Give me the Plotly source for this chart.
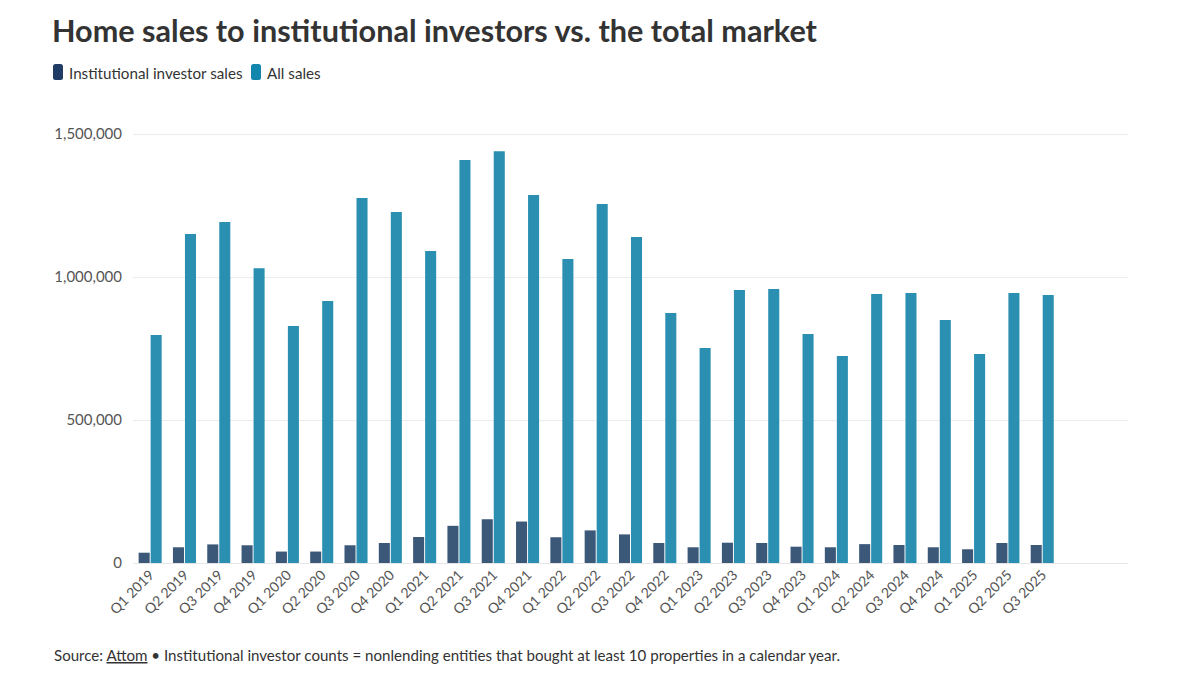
import plotly.graph_objects as go

quarters = ["Q1 2019", "Q2 2019", "Q3 2019", "Q4 2019",
            "Q1 2020", "Q2 2020", "Q3 2020", "Q4 2020",
            "Q1 2021", "Q2 2021", "Q3 2021", "Q4 2021",
            "Q1 2022", "Q2 2022", "Q3 2022", "Q4 2022",
            "Q1 2023", "Q2 2023", "Q3 2023", "Q4 2023",
            "Q1 2024", "Q2 2024", "Q3 2024", "Q4 2024",
            "Q1 2025", "Q2 2025", "Q3 2025"]

institutional_sales = [36000, 55000, 65000, 62000,
                       40000, 40000, 62000, 70000,
                       91000, 130000, 153000, 145000,
                       90000, 114000, 100000, 70000,
                       55000, 71000, 70000, 57000,
                       55000, 66000, 63000, 55000,
                       48000, 70000, 63000]

all_sales = [797000, 1150000, 1192000, 1031000,
             829000, 916000, 1276000, 1227000,
             1091000, 1409000, 1440000, 1287000,
             1063000, 1255000, 1140000, 874000,
             752000, 955000, 958000, 801000,
             724000, 941000, 944000, 850000,
             731000, 944000, 937000]

series_names = ["Institutional investor sales", "All sales"]
y_ticks = [0, 500000, 1000000, 1500000]

dark = "#3b5878"
teal = "#2b8fb1"
legend_dark = "#1f3c66"
legend_teal = "#1286ad"

# figure geometry (page has 8px body margin)
W, H = 1192, 666
ML, MR, MT, MB = 125, 72, 102, 111
PW = W - ML - MR
PH = H - MT - MB


def px_x(px):
    """reference-screen pixel x -> paper x"""
    return (px - 8 - ML) / PW


def px_y(py):
    """reference-screen pixel y -> paper y"""
    return (H - MB - (py - 8)) / PH


fig = go.Figure()
fig.add_trace(go.Bar(x=quarters, y=institutional_sales, name=series_names[0],
                     marker=dict(color=dark, line=dict(width=0))))
fig.add_trace(go.Bar(x=quarters, y=all_sales, name=series_names[1],
                     marker=dict(color=teal, line=dict(width=0))))

fig.update_layout(
    width=W, height=H,
    paper_bgcolor="white", plot_bgcolor="white",
    font=dict(family="Lato, Noto Sans, sans-serif", color="#333333"),
    margin=dict(l=ML, r=MR, t=MT, b=MB),
    barmode="group", bargap=0.3, bargroupgap=0.08,
    title=dict(text="<b>Home sales to institutional investors vs. the total market</b>",
               x=44 / W, xanchor="left", xref="container",
               y=1 - 23 / H, yanchor="middle", yref="container",
               font=dict(size=30.6, color="#333333")),
    showlegend=False,
)

fig.update_xaxes(
    type="category", range=[-0.5, 28.5], tickangle=-45,
    tickfont=dict(size=14, color="#555555"), showgrid=False,
    ticks="", showline=False, automargin=False,
)
fig.update_yaxes(
    range=[0, 1584000], tickvals=y_ticks, tickformat=",",
    tickfont=dict(size=15, color="#555555"),
    showgrid=True, gridcolor="#ececec", gridwidth=1,
    zeroline=True, zerolinecolor="#e6e6e6", zerolinewidth=1,
    ticks="", ticklabelstandoff=10, automargin=False,
)


def rounded_rect(x0, y0, x1, y1, r):
    # pixel coords (screen) -> path in paper coords
    rx = r / PW
    ry = r / PH
    a0, a1 = px_x(x0), px_x(x1)
    b0, b1 = px_y(y1), px_y(y0)  # b0 bottom, b1 top
    return (f"M {a0+rx},{b0} L {a1-rx},{b0} Q {a1},{b0} {a1},{b0+ry} "
            f"L {a1},{b1-ry} Q {a1},{b1} {a1-rx},{b1} L {a0+rx},{b1} "
            f"Q {a0},{b1} {a0},{b1-ry} L {a0},{b0+ry} Q {a0},{b0} {a0+rx},{b0} Z")


legend_items = [
    (53, 63, 67, series_names[0], legend_dark),
    (251, 261, 265, series_names[1], legend_teal),
]
for sx0, sx1, tx, label, col in legend_items:
    fig.add_shape(type="path", xref="paper", yref="paper",
                  path=rounded_rect(sx0, 64, sx1, 80, 2.5),
                  fillcolor=col, line=dict(width=0), layer="above")
    fig.add_annotation(text=label, xref="paper", yref="paper",
                       x=px_x(tx), y=px_y(73), xanchor="left", yanchor="middle",
                       showarrow=False, font=dict(size=15.2, color="#333333"))

fig.add_annotation(
    text="Source: <u>Attom</u> • Institutional investor counts = nonlending entities that bought at least 10 properties in a calendar year.",
    xref="paper", yref="paper", x=px_x(52), y=px_y(655),
    xanchor="left", yanchor="middle", showarrow=False,
    font=dict(size=15.1, color="#333333"),
)

fig.write_html("out.html")
